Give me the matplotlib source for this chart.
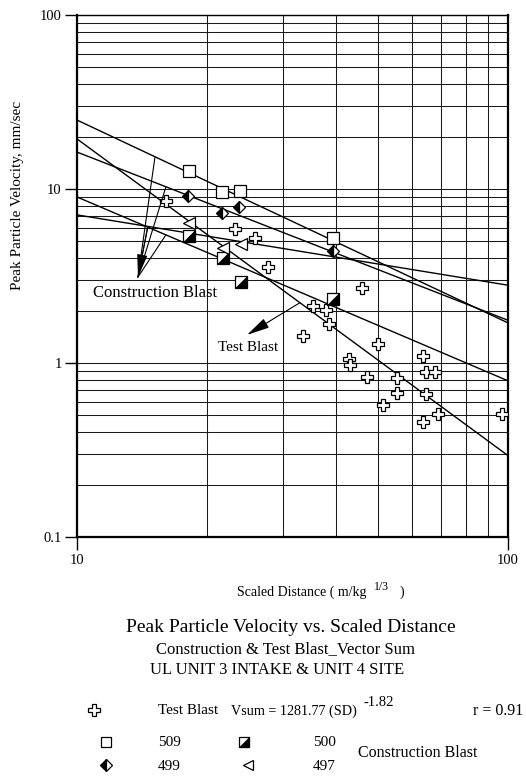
import numpy as np
import matplotlib
matplotlib.use("Agg")
import matplotlib.pyplot as plt
from matplotlib.ticker import NullFormatter

plt.rcParams['font.family'] = ['Liberation Serif', 'DejaVu Serif']

# ---------------- data ----------------
test_x = [16.1, 23.2, 25.9, 27.8, 45.8, 35.3, 37.9, 38.5, 33.4, 50.0, 42.8, 43.0,
          47.2, 55.2, 55.4, 51.4, 63.4, 64.7, 67.8, 64.6, 68.9, 63.4, 96.6]
test_y = [8.5, 5.9, 5.2, 3.55, 2.69, 2.13, 2.02, 1.68, 1.43, 1.28, 1.05, 0.97,
          0.83, 0.82, 0.67, 0.574, 1.10, 0.89, 0.89, 0.66, 0.51, 0.46, 0.51]

b509_x = [18.2, 21.7, 23.9, 39.3]
b509_y = [12.7, 9.6, 9.8, 5.2]
b499_x = [18.1, 21.7, 23.8, 39.3]
b499_y = [9.1, 7.3, 7.9, 4.4]
b500_x = [18.2, 21.8, 24.0, 39.3]
b500_y = [5.4, 4.0, 2.93, 2.32]
b497_x = [18.2, 21.8, 24.0]
b497_y = [6.4, 4.6, 4.8]

fit_x = [10, 100]
test_K, test_b = 1281.77, -1.82
fit_test = [test_K * v ** test_b for v in fit_x]
fit_509 = [24.9, 1.70]
fit_499 = [16.3, 1.76]
fit_500 = [9.0, 0.79]
fit_497 = [7.1, 2.8]

x_ticks = [10, 100]
x_ticklabels = ['10', '100']
y_ticks = [0.1, 1, 10, 100]
y_ticklabels = ['0.1', '1', '10', '100']

# ---------------- figure ----------------
W, H = 526, 780
fig = plt.figure(figsize=(W / 100, H / 100), dpi=100)

def fx(px):
    return px / W

def fy(py):
    return 1 - py / H

ax = fig.add_axes([fx(77), fy(537), fx(508) - fx(77), fy(15) - fy(537)])
ax.set_xscale('log')
ax.set_yscale('log')
ax.set_xlim(10, 100)
ax.set_ylim(0.1, 100)

ax.grid(which='both', color='#1a1a1a', lw=0.75)
ax.set_axisbelow(True)
ax.set_xticks(x_ticks)
ax.set_xticklabels(x_ticklabels)
ax.set_yticks(y_ticks)
ax.set_yticklabels(y_ticklabels)
ax.xaxis.set_minor_formatter(NullFormatter())
ax.yaxis.set_minor_formatter(NullFormatter())
ax.tick_params(which='minor', length=0)
ax.tick_params(which='major', length=9, width=1.0, direction='out',
               labelsize=10.5, pad=2)
ax.tick_params(axis='x', pad=3)
for side in ['left', 'bottom', 'right']:
    ax.spines[side].set_linewidth(1.6)
ax.spines['top'].set_linewidth(1.0)

# fit lines
for fy_vals in [fit_509, fit_499, fit_test, fit_500, fit_497]:
    ax.plot(fit_x, fy_vals, color='black', lw=1.0, zorder=3)

# markers
mk = dict(linestyle='none', color='black', zorder=5)
ax.plot(test_x, test_y, marker='P', ms=8.5, mfc='white', mec='black', mew=0.9, **mk)
ax.plot(b509_x, b509_y, marker='s', ms=8, mfc='white', mec='black', mew=0.9, **mk)
ax.plot(b499_x, b499_y, marker='D', ms=6.5, fillstyle='left', mfc='black',
        markerfacecoloralt='white', mec='black', mew=0.9, **mk)
ax.plot(b500_x, b500_y, marker='s', ms=8, mfc='white', mec='black', mew=0.9, **mk)
tri = [(-1, -1), (1, -1), (1, 1), (-1, -1)]
ax.plot(b500_x, b500_y, marker=tri, ms=8, mfc='black', mec='black', mew=0.5, **mk)
ax.plot(b497_x, b497_y, marker='<', ms=8, mfc='white', mec='black', mew=0.9, **mk)


def on_line(vals, x):
    t = (np.log10(x) - np.log10(fit_x[0])) / (np.log10(fit_x[1]) - np.log10(fit_x[0]))
    return 10 ** (np.log10(vals[0]) + t * (np.log10(vals[1]) - np.log10(vals[0])))

plain = dict(arrowstyle='-', color='black', lw=0.8, shrinkA=0, shrinkB=0)
headed = dict(arrowstyle='-|>,head_length=1.4,head_width=0.32', color='black',
              lw=0.8, shrinkA=0, shrinkB=0, mutation_scale=10)

# Construction blast fan arrows
tip = (13.85, 3.12)
for vals, xs in [(fit_509, 15.17), (fit_499, 16.08), (fit_497, 14.6), (fit_500, 16.08)]:
    ax.annotate('', xy=tip, xytext=(xs, on_line(vals, xs)), arrowprops=plain, zorder=6)
ax.annotate('', xy=tip, xytext=(14.6, on_line(fit_497, 14.6)), arrowprops=headed,
            zorder=6)
ax.text(15.15, 2.52, 'Construction Blast', ha='center', va='center', fontsize=12,
        zorder=7)

# Test blast arrow
xs = 32.9
ax.annotate('', xy=(24.8, 1.45), xytext=(xs, on_line(fit_test, xs)),
            arrowprops=headed, zorder=6)
ax.text(24.9, 1.23, 'Test Blast', ha='center', va='center', fontsize=11, zorder=7)

# axis labels
fig.text(fx(18), fy(195), 'Peak Particle Velocity, mm/sec', rotation=90,
         ha='center', va='center', fontsize=11)
fig.text(fx(237), fy(592), 'Scaled Distance ( m/kg', ha='left', va='center', fontsize=10)
fig.text(fx(374), fy(587), '1/3', ha='left', va='center', fontsize=8.5)
fig.text(fx(399), fy(592), ')', ha='left', va='center', fontsize=10)

# titles
fig.text(fx(291), fy(628), 'Peak Particle Velocity vs. Scaled Distance',
         ha='center', va='center', fontsize=14)
fig.text(fx(285), fy(649), 'Construction & Test Blast_Vector Sum',
         ha='center', va='center', fontsize=12)
fig.text(fx(277), fy(670), 'UL UNIT 3 INTAKE & UNIT 4 SITE',
         ha='center', va='center', fontsize=12)

# legend block
lg = fig.add_axes([0, 0, 1, 1])
lg.set_xlim(0, W)
lg.set_ylim(H, 0)
lg.axis('off')
lg.patch.set_alpha(0)
lg.plot([94], [710], marker='P', ms=8, mfc='white', mec='black', mew=0.9, ls='none')
lg.plot([106], [742], marker='s', ms=7.5, mfc='white', mec='black', mew=0.9, ls='none')
lg.plot([106], [765], marker='D', ms=6, fillstyle='left', mfc='black',
        markerfacecoloralt='white', mec='black', mew=0.9, ls='none')
lg.plot([244], [742], marker='s', ms=7.5, mfc='white', mec='black', mew=0.9, ls='none')
lg.plot([244], [742], marker=tri, ms=7.5, mfc='black', mec='black', mew=0.5, ls='none')
lg.plot([248], [765], marker='<', ms=7.5, mfc='white', mec='black', mew=0.9, ls='none')

fs = 11
lg.text(158, 711, 'Test Blast', ha='left', va='center', fontsize=fs)
lg.text(231, 711, 'Vsum = 1281.77 (SD)', ha='left', va='center', fontsize=10.2)
lg.text(363, 703, '-1.82', ha='left', va='center', fontsize=10.5)
lg.text(523, 711, 'r = 0.91', ha='right', va='center', fontsize=11.5)
lg.text(158, 742, '509', ha='left', va='center', fontsize=fs)
lg.text(313, 742, '500', ha='left', va='center', fontsize=fs)
lg.text(158, 766, '499', ha='left', va='center', fontsize=fs)
lg.text(313, 766, '497', ha='left', va='center', fontsize=fs)
lg.text(358, 753, 'Construction Blast', ha='left', va='center', fontsize=fs + 0.5)

fig.savefig('out.png', dpi=100)
